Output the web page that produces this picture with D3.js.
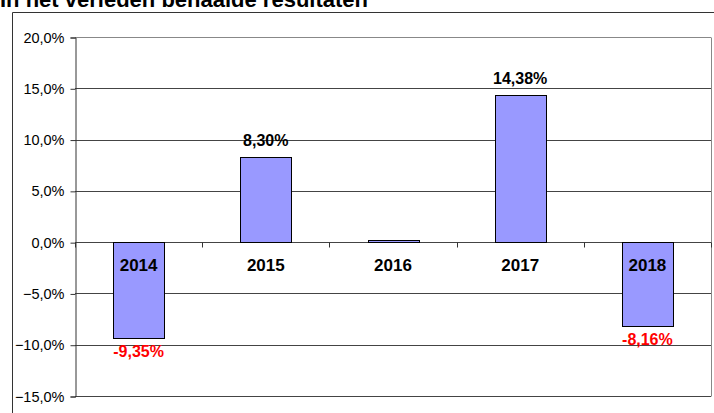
<!DOCTYPE html>
<html>
<head>
<meta charset="utf-8">
<script src="https://cdn.jsdelivr.net/npm/d3@7"></script>
<style>
  body { margin: 0; background: #fff; }
  text { font-family: Arial, "Liberation Sans", sans-serif; }
</style>
</head>
<body>
<div id="chart"></div>
<script>
const width = 714;
const height = 413;

// data
const years = ['2014', '2015', '2016', '2017', '2018'];
const returns = [-9.35, 8.30, 0.25, 14.38, -8.16];
const valueLabels = ['-9,35%', '8,30%', '', '14,38%', '-8,16%'];
const yTicks = [-15, -10, -5, 0, 5, 10, 15, 20];

const title = 'In het verleden behaalde resultaten';

const plot = { left: 75, right: 711, top: 37, bottom: 396 };

const svg = d3.select('#chart')
  .append('svg')
  .attr('width', width)
  .attr('height', height);

// titel (half afgesneden bovenaan, zoals in het origineel)
svg.append('text')
  .attr('x', 0)
  .attr('y', 7)
  .attr('font-size', 22)
  .attr('font-weight', 'bold')
  .attr('fill', '#000')
  .text(title);

// kader van de grafiek
svg.append('line')
  .attr('x1', 12.5).attr('x2', 714)
  .attr('y1', 12.5).attr('y2', 12.5)
  .attr('stroke', '#333');
svg.append('line')
  .attr('x1', 12.5).attr('x2', 12.5)
  .attr('y1', 12.5).attr('y2', 413)
  .attr('stroke', '#333');

const x = d3.scaleBand()
  .domain(years)
  .range([plot.left, plot.right])
  .paddingInner(0)
  .paddingOuter(0);

const y = d3.scaleLinear()
  .domain([-15, 20])
  .range([plot.bottom, plot.top]);

const fmt = v => d3.format('.1f')(v).replace('.', ',') + '%';

// rasterlijnen
svg.append('g')
  .selectAll('line')
  .data(yTicks)
  .enter()
  .append('line')
  .attr('x1', plot.left)
  .attr('x2', plot.right)
  .attr('y1', d => Math.round(y(d)) + 0.5)
  .attr('y2', d => Math.round(y(d)) + 0.5)
  .attr('stroke', d => d === 20 ? '#888' : '#444')
  .attr('stroke-width', 1);

// rechterrand plotgebied
svg.append('line')
  .attr('x1', plot.right + 0.5).attr('x2', plot.right + 0.5)
  .attr('y1', Math.round(y(20)) + 0.5).attr('y2', Math.round(y(-15)) + 0.5)
  .attr('stroke', '#888');

// y-as
const yAxis = svg.append('g')
  .attr('transform', `translate(${plot.left + 0.5},0.5)`)
  .call(d3.axisLeft(y)
    .tickValues(yTicks)
    .tickFormat(fmt)
    .tickSize(5)
    .tickPadding(6));
yAxis.select('.domain').attr('stroke', '#333');
yAxis.selectAll('.tick line').attr('stroke', '#333');
yAxis.selectAll('.tick text')
  .attr('font-size', 14.5)
  .attr('font-family', 'Arial, "Liberation Sans", sans-serif')
  .attr('fill', '#000');

// staven
svg.append('g')
  .selectAll('rect')
  .data(years)
  .enter()
  .append('rect')
  .attr('x', (d) => Math.round(x(d) + x.bandwidth() * 0.3) + 0.5)
  .attr('width', Math.round(x.bandwidth() * 0.4))
  .attr('y', (d, i) => Math.round(y(Math.max(0, returns[i]))) + 0.5)
  .attr('height', (d, i) => Math.abs(Math.round(y(returns[i])) - Math.round(y(0))))
  .attr('fill', '#9999ff')
  .attr('stroke', '#000')
  .attr('stroke-width', 1);

// categorie-ticks op de nullijn
const xAxis = svg.append('g')
  .attr('transform', `translate(0, ${Math.round(y(0)) + 0.5})`);
xAxis.selectAll('line')
  .data(d3.range(years.length + 1))
  .enter()
  .append('line')
  .attr('x1', i => Math.round(plot.left + i * x.step()) + 0.5)
  .attr('x2', i => Math.round(plot.left + i * x.step()) + 0.5)
  .attr('y1', 0)
  .attr('y2', 5)
  .attr('stroke', '#333');

// jaartallen
svg.append('g')
  .selectAll('text')
  .data(years)
  .enter()
  .append('text')
  .attr('x', d => x(d) + x.bandwidth() / 2)
  .attr('y', y(0) + 29)
  .attr('text-anchor', 'middle')
  .attr('font-size', 17)
  .attr('font-weight', 'bold')
  .attr('fill', '#000')
  .text(d => d);

// waardelabels
svg.append('g')
  .selectAll('text')
  .data(years)
  .enter()
  .append('text')
  .attr('x', d => x(d) + x.bandwidth() / 2)
  .attr('y', (d, i) => returns[i] >= 0 ? y(returns[i]) - 11 : y(returns[i]) + 19)
  .attr('text-anchor', 'middle')
  .attr('font-size', 16)
  .attr('font-weight', 'bold')
  .attr('fill', (d, i) => returns[i] >= 0 ? '#000' : '#ff0000')
  .text((d, i) => valueLabels[i]);
</script>
</body>
</html>
